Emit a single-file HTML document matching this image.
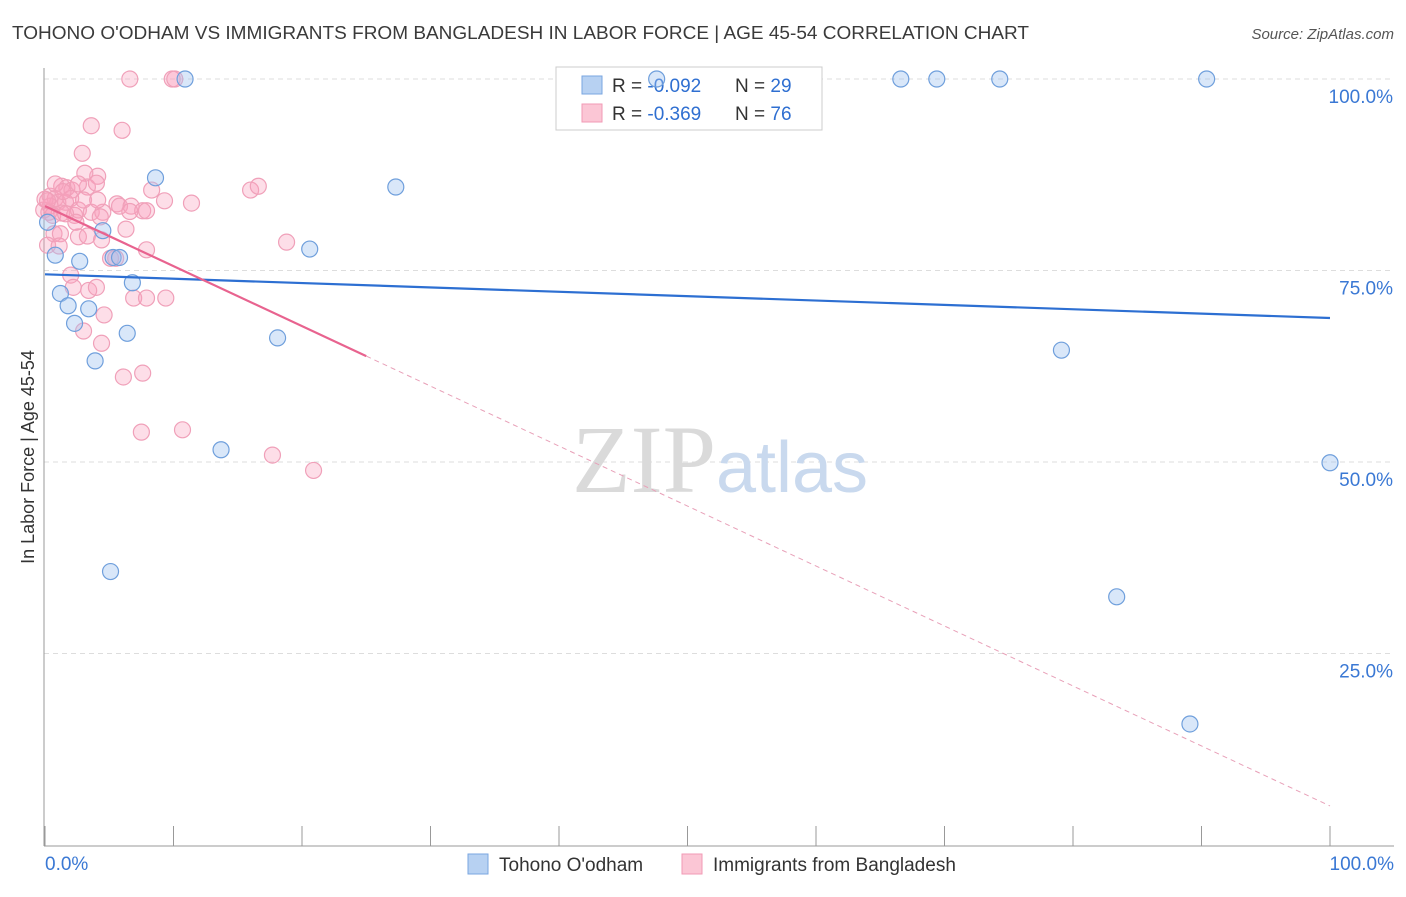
<!DOCTYPE html>
<html><head><meta charset="utf-8">
<style>
body{margin:0;background:#fff;font-family:"Liberation Sans",sans-serif;}
svg text{font-family:"Liberation Sans",sans-serif;}
</style></head>
<body>
<svg id="chart" width="1406" height="892" viewBox="0 0 1406 892" xmlns="http://www.w3.org/2000/svg">
<text x="12" y="39" font-size="18" fill="#3a3a3a" textLength="1017" lengthAdjust="spacingAndGlyphs">TOHONO O'ODHAM VS IMMIGRANTS FROM BANGLADESH IN LABOR FORCE | AGE 45-54 CORRELATION CHART</text>
<text x="1394" y="39" font-size="15" fill="#555" text-anchor="end" font-style="italic">Source: ZipAtlas.com</text>
<g id="grid"></g>
<text x="720" y="492" font-size="96" text-anchor="middle"><tspan fill="#dadada" font-family="Liberation Serif">ZIP</tspan><tspan fill="#c9d9ee" font-size="72">atlas</tspan></text>
<line x1="44" y1="68" x2="44" y2="846" stroke="#999"/>
<line x1="44" y1="846" x2="1394" y2="846" stroke="#999"/>
<text transform="translate(34,457) rotate(-90)" font-size="18" fill="#333" text-anchor="middle">In Labor Force | Age 45-54</text>
<g>
<rect x="556" y="67" width="266" height="63" fill="#fff" stroke="#ccc"/>
<rect x="582" y="76" width="20" height="18" fill="#b7d1f2" stroke="#7aa6e0"/>
<rect x="582" y="104" width="20" height="18" fill="#fbc6d5" stroke="#f19ab5"/>
<text x="612" y="92" font-size="19" fill="#333">R = <tspan fill="#2f6fd1">-0.092</tspan></text>
<text x="735" y="92" font-size="19" fill="#333">N = <tspan fill="#2f6fd1">29</tspan></text>
<text x="612" y="120" font-size="19" fill="#333">R = <tspan fill="#2f6fd1">-0.369</tspan></text>
<text x="735" y="120" font-size="19" fill="#333">N = <tspan fill="#2f6fd1">76</tspan></text>
</g>
<g id="marks"></g>
<g>
<rect x="468" y="854" width="20" height="20" fill="#b7d1f2" stroke="#7aa6e0"/>
<text x="499" y="871" font-size="19" fill="#333">Tohono O'odham</text>
<rect x="682" y="854" width="20" height="20" fill="#fbc6d5" stroke="#f19ab5"/>
<text x="713" y="871" font-size="19" fill="#333">Immigrants from Bangladesh</text>
</g>
</svg>
<script>
const yTicks=[100,75,50,25];
const yTickLabels=["100.0%","75.0%","50.0%","25.0%"];
const xEndLabels=["0.0%","100.0%"];
const blueX=[10.9,47.6,66.6,69.4,74.3,90.4,8.6,27.3,20.6,4.5,0.8,2.7,5.3,5.8,6.8,1.2,1.8,3.4,2.3,6.4,18.1,3.9,13.7,79.1,100,83.4,5.1,89.1,0.2];
const blueY=[100,100,100,100,100,100,87.1,85.9,77.8,80.2,77.0,76.2,76.7,76.7,73.4,72.0,70.4,70.0,68.1,66.8,66.2,63.2,51.6,64.6,49.9,32.4,35.7,15.8,81.3];
const pinkX=[6.6,9.9,10.1,3.6,6.0,2.9,4.1,3.1,1.3,1.7,2.1,3.3,4.0,2.6,0.4,0.8,0.4,1.0,1.6,2.0,-0.1,0.3,0.6,1.3,2.3,2.6,3.6,4.5,5.6,5.8,6.7,7.6,7.9,8.3,9.3,11.4,16.0,16.6,0.7,1.2,2.6,3.3,4.4,6.3,7.9,18.8,2.0,2.2,3.4,4.0,5.1,6.9,7.9,9.4,4.6,3.0,4.4,6.1,7.6,7.5,10.7,17.7,20.9,2.4,0.8,0,1.4,4.3,5.5,0.2,1.1,3.0,1.6,6.6,0.2,4.1];
const pinkY=[100,100,100,93.9,93.3,90.3,87.3,87.7,86.0,85.8,85.5,85.9,86.4,86.3,84.7,84.4,83.4,83.9,83.9,84.4,82.9,82.6,82.2,82.5,82.2,82.9,82.6,82.6,83.7,83.4,83.4,82.8,82.8,85.5,84.1,83.8,85.5,86.0,79.8,79.8,79.4,79.5,79.0,80.4,77.7,78.7,74.4,72.8,72.4,72.8,76.6,71.4,71.4,71.4,69.2,67.1,65.5,61.1,61.6,53.9,54.2,50.9,48.9,81.3,86.3,84.3,85.3,82.0,76.6,78.3,78.2,84.2,82.4,82.7,84.1,84.2];
const blueTrend=[74.5,68.8];
const pinkTrend=[83.4,5.1];
const pinkSolidEnd=25;
const X=v=>45+v*12.85, Y=v=>845-v*7.66;
const svg=document.getElementById('chart'), NS="http://www.w3.org/2000/svg";
const grid=document.getElementById('grid'), marks=document.getElementById('marks');
function mk(tag,attrs,parent){const e=document.createElementNS(NS,tag);for(const k in attrs)e.setAttribute(k,attrs[k]);parent.appendChild(e);return e;}
yTicks.forEach((t,i)=>{
  const l=mk('line',{x1:44,x2:1394,y1:Y(t),y2:Y(t),stroke:'#ddd','stroke-dasharray':'5,4'},grid);
  
  
  const tx=mk('text',{x:1393,y:Y(t)+24,'font-size':19,fill:'#3a78d4','text-anchor':'end'},svg);
  tx.textContent=yTickLabels[i];
  
  
});
for(let i=0;i<=10;i++){
  const l=mk('line',{x1:X(i*10),x2:X(i*10),y1:826,y2:846,stroke:'#999'},svg);
  
  
}
[[0,'start',45],[100,'end',1394]].forEach((d,i)=>{
  const t=mk('text',{x:d[2],y:870,'font-size':19,fill:'#3a78d4','text-anchor':d[1]},svg);
  t.textContent=xEndLabels[i];
  
  
});
pinkX.forEach((x,i)=>{
  const c=mk('circle',{cx:X(x),cy:Y(pinkY[i]),r:8,fill:'rgba(248,160,188,0.35)',stroke:'#f0a0b9','stroke-width':1.2},marks);
  
  
});
blueX.forEach((x,i)=>{
  const c=mk('circle',{cx:X(x),cy:Y(blueY[i]),r:8,fill:'rgba(160,195,240,0.4)',stroke:'#6f9fdc','stroke-width':1.2},marks);
  
  
});
const ps=pinkTrend[0]+(pinkTrend[1]-pinkTrend[0])*pinkSolidEnd/100;
const l1=mk('line',{x1:X(0),y1:Y(blueTrend[0]),x2:X(100),y2:Y(blueTrend[1]),stroke:'#2d6fd2','stroke-width':2.2},marks);


const l2=mk('line',{x1:X(0),y1:Y(pinkTrend[0]),x2:X(pinkSolidEnd),y2:Y(ps),stroke:'#e8638f','stroke-width':2.2},marks);


const l3=mk('line',{x1:X(pinkSolidEnd),y1:Y(ps),x2:X(100),y2:Y(pinkTrend[1]),stroke:'#e8a0b8','stroke-width':1,'stroke-dasharray':'5,4'},marks);


</script>
</body></html>
